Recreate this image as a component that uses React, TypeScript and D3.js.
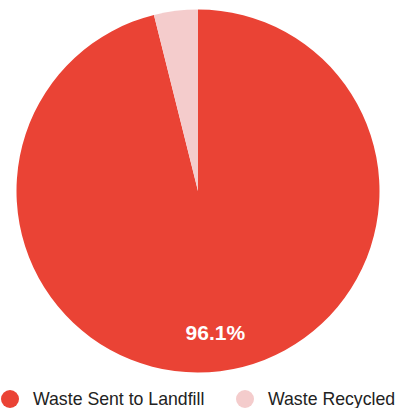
import React from "react";
import * as d3 from "d3";

const categories = ["Waste Sent to Landfill", "Waste Recycled"];
const values = [96.1, 3.9];
const colors = ["#ea4335", "#f4cccc"];

const W = 412;
const H = 408;
const cx = 198;
const cy = 191;
const R = 181.5;

export default function App() {
  const data = categories.map((c, i) => ({ name: c, value: values[i], color: colors[i] }));
  const pie = d3.pie<any>().value((d) => d.value).sort(null).startAngle(0).endAngle(2 * Math.PI);
  const arcs = pie(data);
  const arcGen = d3.arc<any>().innerRadius(0).outerRadius(R);
  const labelArc = d3.arc<any>().innerRadius(R * 0.78).outerRadius(R * 0.78);
  const total = d3.sum(values);

  const legendX = [10, 245];

  return (
    <svg
      width={W}
      height={H}
      style={{ position: "absolute", left: 0, top: 0, background: "#fff" }}
      fontFamily="Arial, 'Liberation Sans', sans-serif"
    >
      <g transform={`translate(${cx},${cy})`}>
        {arcs.map((a, i) => (
          <path key={i} d={arcGen(a) as string} fill={a.data.color} stroke="none" />
        ))}
        {arcs.map((a, i) => {
          const pct = (a.data.value / total) * 100;
          if (pct < 10) return null;
          const [x, y] = labelArc.centroid(a);
          return (
            <text
              key={"l" + i}
              x={x}
              y={y + 1}
              textAnchor="middle"
              dominantBaseline="central"
              fill="#ffffff"
              fontSize={21}
              fontWeight="bold"
            >
              {pct.toFixed(1) + "%"}
            </text>
          );
        })}
      </g>
      {data.map((d, i) => (
        <g key={"lg" + i} transform={`translate(${legendX[i]},399)`}>
          <circle cx={0} cy={0} r={9} fill={d.color} />
          <text x={23} y={0} dominantBaseline="central" fontSize={17.7} fill="#222222">
            {d.name}
          </text>
        </g>
      ))}
    </svg>
  );
}
